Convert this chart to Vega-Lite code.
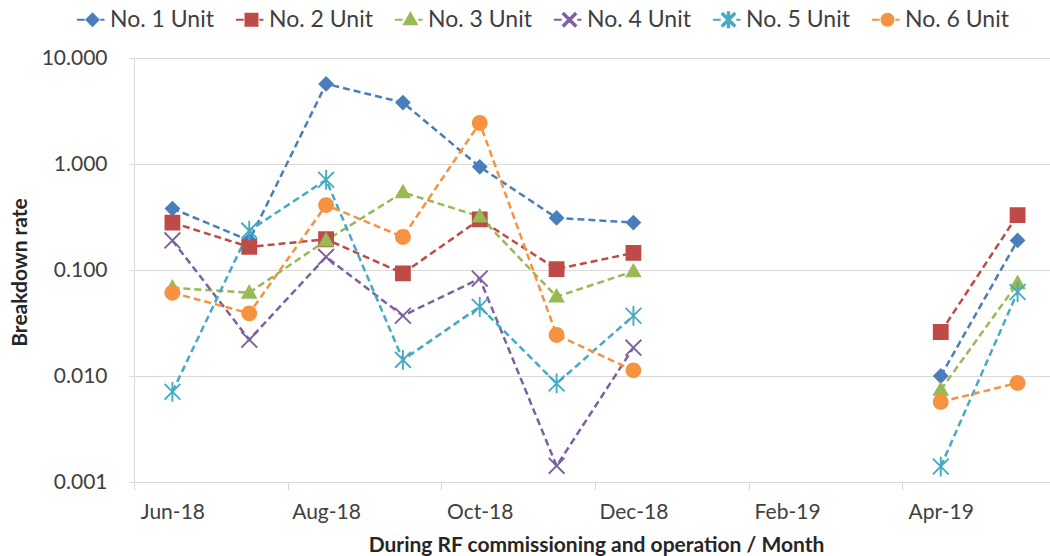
{
  "$schema": "https://vega.github.io/schema/vega-lite/v6.json",
  "width": 916,
  "height": 424,
  "autosize": "none",
  "padding": {"left": 134, "top": 58, "right": 0, "bottom": 74},
  "background": "white",
  "config": {
    "font": "Lato",
    "view": {"stroke": null},
    "axis": {"labelFont": "Lato", "titleFont": "Lato", "labelColor": "#404040", "titleColor": "#262626"}
  },
  "data": {
    "values": [
      {"month": "Jun-18", "unit": "No. 1 Unit", "rate": 0.38},
      {"month": "Jul-18", "unit": "No. 1 Unit", "rate": 0.19},
      {"month": "Aug-18", "unit": "No. 1 Unit", "rate": 5.7},
      {"month": "Sep-18", "unit": "No. 1 Unit", "rate": 3.8},
      {"month": "Oct-18", "unit": "No. 1 Unit", "rate": 0.94},
      {"month": "Nov-18", "unit": "No. 1 Unit", "rate": 0.31},
      {"month": "Dec-18", "unit": "No. 1 Unit", "rate": 0.28},
      {"month": "Jan-19", "unit": "No. 1 Unit", "rate": null},
      {"month": "Apr-19", "unit": "No. 1 Unit", "rate": 0.0100},
      {"month": "May-19", "unit": "No. 1 Unit", "rate": 0.19},
      {"month": "Jun-18", "unit": "No. 2 Unit", "rate": 0.28},
      {"month": "Jul-18", "unit": "No. 2 Unit", "rate": 0.165},
      {"month": "Aug-18", "unit": "No. 2 Unit", "rate": 0.195},
      {"month": "Sep-18", "unit": "No. 2 Unit", "rate": 0.093},
      {"month": "Oct-18", "unit": "No. 2 Unit", "rate": 0.30},
      {"month": "Nov-18", "unit": "No. 2 Unit", "rate": 0.102},
      {"month": "Dec-18", "unit": "No. 2 Unit", "rate": 0.145},
      {"month": "Jan-19", "unit": "No. 2 Unit", "rate": null},
      {"month": "Apr-19", "unit": "No. 2 Unit", "rate": 0.026},
      {"month": "May-19", "unit": "No. 2 Unit", "rate": 0.33},
      {"month": "Jun-18", "unit": "No. 3 Unit", "rate": 0.068},
      {"month": "Jul-18", "unit": "No. 3 Unit", "rate": 0.061},
      {"month": "Aug-18", "unit": "No. 3 Unit", "rate": 0.19},
      {"month": "Sep-18", "unit": "No. 3 Unit", "rate": 0.54},
      {"month": "Oct-18", "unit": "No. 3 Unit", "rate": 0.32},
      {"month": "Nov-18", "unit": "No. 3 Unit", "rate": 0.056},
      {"month": "Dec-18", "unit": "No. 3 Unit", "rate": 0.097},
      {"month": "Jan-19", "unit": "No. 3 Unit", "rate": null},
      {"month": "Apr-19", "unit": "No. 3 Unit", "rate": 0.0074},
      {"month": "May-19", "unit": "No. 3 Unit", "rate": 0.075},
      {"month": "Jun-18", "unit": "No. 4 Unit", "rate": 0.19},
      {"month": "Jul-18", "unit": "No. 4 Unit", "rate": 0.022},
      {"month": "Aug-18", "unit": "No. 4 Unit", "rate": 0.133},
      {"month": "Sep-18", "unit": "No. 4 Unit", "rate": 0.037},
      {"month": "Oct-18", "unit": "No. 4 Unit", "rate": 0.083},
      {"month": "Nov-18", "unit": "No. 4 Unit", "rate": 0.00142},
      {"month": "Dec-18", "unit": "No. 4 Unit", "rate": 0.0185},
      {"month": "Jun-18", "unit": "No. 5 Unit", "rate": 0.0071},
      {"month": "Jul-18", "unit": "No. 5 Unit", "rate": 0.235},
      {"month": "Aug-18", "unit": "No. 5 Unit", "rate": 0.71},
      {"month": "Sep-18", "unit": "No. 5 Unit", "rate": 0.0142},
      {"month": "Oct-18", "unit": "No. 5 Unit", "rate": 0.045},
      {"month": "Nov-18", "unit": "No. 5 Unit", "rate": 0.0085},
      {"month": "Dec-18", "unit": "No. 5 Unit", "rate": 0.037},
      {"month": "Jan-19", "unit": "No. 5 Unit", "rate": null},
      {"month": "Apr-19", "unit": "No. 5 Unit", "rate": 0.0014},
      {"month": "May-19", "unit": "No. 5 Unit", "rate": 0.062},
      {"month": "Jun-18", "unit": "No. 6 Unit", "rate": 0.061},
      {"month": "Jul-18", "unit": "No. 6 Unit", "rate": 0.039},
      {"month": "Aug-18", "unit": "No. 6 Unit", "rate": 0.41},
      {"month": "Sep-18", "unit": "No. 6 Unit", "rate": 0.205},
      {"month": "Oct-18", "unit": "No. 6 Unit", "rate": 2.44},
      {"month": "Nov-18", "unit": "No. 6 Unit", "rate": 0.0244},
      {"month": "Dec-18", "unit": "No. 6 Unit", "rate": 0.0113},
      {"month": "Jan-19", "unit": "No. 6 Unit", "rate": null},
      {"month": "Apr-19", "unit": "No. 6 Unit", "rate": 0.0057},
      {"month": "May-19", "unit": "No. 6 Unit", "rate": 0.0086}
    ]
  },
  "encoding": {
    "x": {
      "field": "month",
      "type": "ordinal",
      "sort": null,
      "scale": {
        "type": "point",
        "padding": 0.5,
        "range": [0, 922],
        "domain": ["Jun-18", "Jul-18", "Aug-18", "Sep-18", "Oct-18", "Nov-18", "Dec-18", "Jan-19", "Feb-19", "Mar-19", "Apr-19", "May-19"]
      },
      "axis": {
        "values": ["Jun-18", "Aug-18", "Oct-18", "Dec-18", "Feb-19", "Apr-19"],
        "labelAngle": 0,
        "labelFontSize": 21,
        "labelPadding": 11,
        "tickOffset": -38.4,
        "labelOffset": 38.4,
        "tickSize": 8,
        "tickColor": "#D9D9D9",
        "domainColor": "#D9D9D9",
        "grid": false,
        "title": "During RF commissioning and operation / Month",
        "titleFontSize": 21,
        "titleFontWeight": "bold",
        "titleX": 462,
        "titleY": 63,
        "titleBaseline": "middle"
      }
    },
    "y": {
      "field": "rate",
      "type": "quantitative",
      "scale": {"type": "log", "domain": [0.001, 10], "nice": false},
      "axis": {
        "values": [0.001, 0.01, 0.1, 1, 10],
        "format": ".3f",
        "labelFontSize": 21,
        "labelPadding": 22,
        "tickSize": 5,
        "tickColor": "#D9D9D9",
        "domainColor": "#D9D9D9",
        "gridColor": "#D9D9D9",
        "title": "Breakdown rate",
        "titleFontSize": 21,
        "titleFontWeight": "bold",
        "titleX": -114,
        "titleY": 214,
        "titleAngle": -90,
        "titleAlign": "center",
        "titleBaseline": "middle"
      }
    },
    "color": {
      "field": "unit",
      "type": "nominal",
      "scale": {
        "domain": ["No. 1 Unit", "No. 2 Unit", "No. 3 Unit", "No. 4 Unit", "No. 5 Unit", "No. 6 Unit"],
        "range": ["#4A7EBB", "#BE4B48", "#98B954", "#7D60A0", "#46AAC5", "#F69240"]
      },
      "legend": {
        "title": null,
        "orient": "none",
        "direction": "horizontal",
        "columns": 6,
        "legendX": -53,
        "legendY": -50,
        "labelFontSize": 23,
        "labelColor": "#404040",
        "labelFont": "Lato",
        "columnPadding": 17,
        "symbolSize": 144,
        "symbolStrokeWidth": 2,
        "symbolOpacity": 1,
        "labelOffset": 6
      }
    }
  },
  "layer": [
    {
      "mark": {"type": "line", "strokeDash": [7, 4], "strokeWidth": 2.5, "invalid": "break-paths-show-domains"}
    },
    {
      "mark": {"type": "point", "filled": true, "opacity": 1, "size": 250, "strokeWidth": 0},
      "encoding": {
        "shape": {
          "field": "unit",
          "type": "nominal",
          "scale": {
            "domain": ["No. 1 Unit", "No. 2 Unit", "No. 3 Unit", "No. 4 Unit", "No. 5 Unit", "No. 6 Unit"],
            "range": [
              "M0,-1L1,0L0,1L-1,0ZM-2.6,0L-1.3,0M1.3,0L2,0",
              "M-1,-1L1,-1L1,1L-1,1ZM-2.6,0L-1.3,0M1.3,0L2,0",
              "M0,-1.1L1.05,0.75L-1.05,0.75ZM-2.6,0L-1.3,0M1.3,0L2,0",
              "M-0.915,-1.085L1.085,0.915L0.915,1.085L-1.085,-0.915ZM-1.085,0.915L0.915,-1.085L1.085,-0.915L-0.915,1.085ZM-2.6,0L-1.3,0M1.3,0L2,0",
              "M-0.915,-1.085L1.085,0.915L0.915,1.085L-1.085,-0.915ZM-1.085,0.915L0.915,-1.085L1.085,-0.915L-0.915,1.085ZM-0.12,-1.25L0.12,-1.25L0.12,1.25L-0.12,1.25ZM-2.6,0L-1.3,0M1.3,0L2,0",
              "M-1,0A1,1,0,1,1,1,0A1,1,0,1,1,-1,0ZM-2.6,0L-1.3,0M1.3,0L2,0"
            ]
          },
          "legend": {"title": null}
        },
        "stroke": {
          "field": "unit",
          "type": "nominal",
          "scale": {
            "domain": ["No. 1 Unit", "No. 2 Unit", "No. 3 Unit", "No. 4 Unit", "No. 5 Unit", "No. 6 Unit"],
            "range": ["#4A7EBB", "#BE4B48", "#98B954", "#7D60A0", "#46AAC5", "#F69240"]
          },
          "legend": {"title": null}
        }
      }
    }
  ]
}
